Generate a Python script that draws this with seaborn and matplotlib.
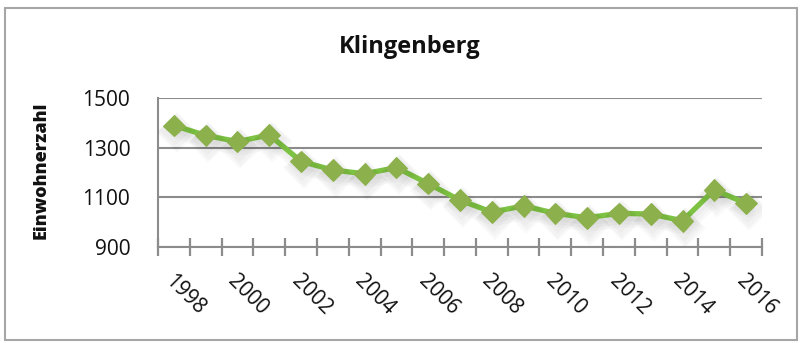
import matplotlib
matplotlib.use("Agg")
import matplotlib.pyplot as plt
import matplotlib.patheffects as pe
from matplotlib.patches import Rectangle
from matplotlib.transforms import ScaledTranslation
import seaborn as sns
import pandas as pd

# Population of Klingenberg by year
years = list(range(1998, 2017))
einwohner = [1390, 1350, 1325, 1352, 1245, 1210, 1195, 1220, 1155, 1088,
             1040, 1065, 1035, 1017, 1035, 1032, 1005, 1130, 1075]
label_years = [str(y) for y in range(1998, 2017, 2)]
y_ticks = [900, 1100, 1300, 1500]

df = pd.DataFrame({"pos": range(len(years)), "Einwohnerzahl": einwohner})

sns.set_theme(style="white")
plt.rcParams["font.family"] = ["Open Sans", "DejaVu Sans"]

W, H = 802, 343
fig = plt.figure(figsize=(W / 100, H / 100), dpi=100)
ax = fig.add_axes([158 / W, 1 - 246.7 / H, (762 - 158) / W, (246.7 - 98.3) / H])

line_color = "#7DC242"
marker_color = "#8CB04B"
grid_color = "#8C8C8C"

sns.lineplot(data=df, x="pos", y="Einwohnerzahl", ax=ax, color=line_color,
             linewidth=3.8, marker="D", markersize=11,
             markerfacecolor=marker_color, markeredgecolor=marker_color,
             zorder=5)
# soft drop shadow beneath the series
shadow = [pe.SimpleLineShadow(offset=(dx, dy), shadow_color="black", alpha=0.025,
                              linewidth=w)
          for dx, dy, w in [(1, -3, 5), (1.5, -4, 8), (2, -5, 10)]]
for ln in ax.lines:
    ln.set_path_effects(shadow + [pe.Normal()])

ax.set_xlim(-0.5, len(years) - 0.5)
ax.set_ylim(900, 1500)
ax.set_yticks(y_ticks)
ax.set_yticklabels([str(v) for v in y_ticks], fontsize=15, color="#111111")
ax.tick_params(axis="y", length=0, pad=20)

# Category labels every second year, tick marks between categories
ax.set_xticks(list(range(0, len(years), 2)))
ax.set_xticklabels(label_years, rotation=-45, ha="left", va="top",
                   rotation_mode="anchor", fontsize=15, color="#111111")
ax.set_xticks([i - 0.5 for i in range(len(years) + 1)], minor=True)
ax.tick_params(axis="x", which="major", length=0, pad=17)
ax.tick_params(axis="x", which="minor", direction="inout", length=13,
               width=1.6, color=grid_color, bottom=True)
shift = ScaledTranslation(1 / 100, 0, fig.dpi_scale_trans)
for lbl in ax.get_xticklabels():
    lbl.set_transform(lbl.get_transform() + shift)

ax.set_xlabel("")
ax.set_ylabel("")
ax.yaxis.grid(True, color=grid_color, linewidth=1.5)
ax.xaxis.grid(False)
for side in ["top", "right"]:
    ax.spines[side].set_visible(False)
for side in ["left", "bottom"]:
    ax.spines[side].set_color(grid_color)
    ax.spines[side].set_linewidth(1.5)

fig.text(410 / W, 1 - 47 / H, "Klingenberg", ha="center", va="center",
         fontsize=17, fontweight="bold", color="#111111")
fig.text(41 / W, 1 - 170 / H, "Einwohnerzahl", ha="center", va="center",
         rotation=90, fontsize=13, fontweight="heavy", color="#111111")

fig.patches.append(Rectangle((5 / W, 1 - 340 / H), (797 - 5) / W, (340 - 8) / H,
                             transform=fig.transFigure, fill=False,
                             edgecolor="#A6A6A6", linewidth=1.5))

fig.savefig("out.png", dpi=100)
